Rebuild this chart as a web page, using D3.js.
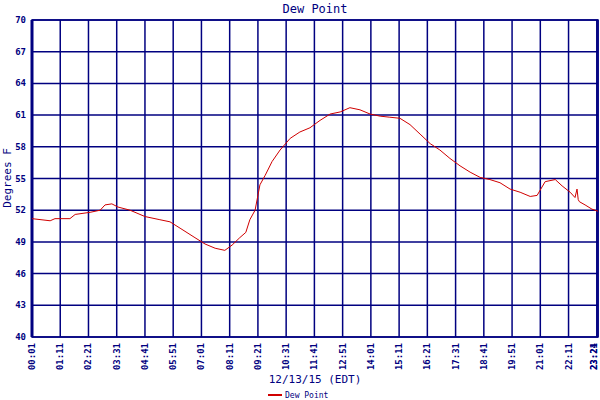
<!DOCTYPE html><html><head><meta charset="utf-8"><script src="https://cdn.jsdelivr.net/npm/d3@7"></script>
<style>body{margin:0;background:#fff}text{font-family:"DejaVu Sans Mono",monospace;fill:#000080}</style></head><body><svg id="c" width="600" height="400"></svg><script>
const minutes=[1,46,58,95,108,145,170,182,199,214,244,281,318,343,368,405,430,455,479,497,516,531,541,554,566,579,596,616,641,665,690,715,740,765,789,814,839,864,888,913,938,963,988,1012,1037,1062,1087,1112,1136,1161,1186,1211,1236,1253,1273,1298,1315,1335,1347,1352,1355,1358,1372,1389,1404];
const dew=[51.2,51.0,51.2,51.2,51.6,51.8,52.0,52.5,52.6,52.3,52.0,51.4,51.1,50.9,50.3,49.4,48.8,48.4,48.2,48.7,49.4,49.9,51.1,52.0,54.4,55.3,56.6,57.7,58.8,59.4,59.8,60.5,61.1,61.3,61.7,61.5,61.1,60.9,60.8,60.7,60.1,59.2,58.3,57.7,56.9,56.2,55.6,55.1,54.9,54.6,54.0,53.7,53.3,53.4,54.7,54.9,54.3,53.7,53.2,54.0,53.0,52.8,52.5,52.1,51.9];
const yTicks=[40,43,46,49,52,55,58,61,64,67,70];
const xTickLabels=["00:01","01:11","02:21","03:31","04:41","05:51","07:01","08:11","09:21","10:31","11:41","12:51","14:01","15:11","16:21","17:31","18:41","19:51","21:01","22:11","23:21","23:24"];
const toMin=s=>{const[h,m]=s.split(":").map(Number);return h*60+m;};
const svg=d3.select("#c"),L=32,R=598,T=20,B=337;
const x=d3.scaleLinear().domain([1,1404]).range([L,R]);
const y=d3.scaleLinear().domain([40,70]).range([B,T]);
const nav="#000080";
svg.append("g").selectAll("line").data(yTicks).join("line").attr("x1",L).attr("x2",R).attr("y1",d=>y(d)).attr("y2",d=>y(d)).attr("stroke",nav).attr("stroke-width",1.5);
svg.append("g").selectAll("line").data(xTickLabels).join("line").attr("x1",d=>x(toMin(d))).attr("x2",d=>x(toMin(d))).attr("y1",T).attr("y2",B).attr("stroke",nav).attr("stroke-width",1.5);
svg.append("rect").attr("x",L).attr("y",T).attr("width",R-L).attr("height",B-T).attr("fill","none").attr("stroke",nav).attr("stroke-width",1.5);
svg.append("line").attr("x1",L).attr("x2",L).attr("y1",T).attr("y2",B).attr("stroke",nav).attr("stroke-width",3);
svg.append("g").selectAll("text").data(yTicks).join("text").attr("x",L-6).attr("y",d=>y(d)+3).attr("text-anchor","end").attr("font-size",9).attr("font-weight","bold").text(d=>d);
svg.append("g").selectAll("text").data(xTickLabels).join("text").attr("transform",d=>`translate(${Math.min(x(toMin(d))+3,597)},${B+6}) rotate(-90)`).attr("text-anchor","end").attr("font-size",9).attr("font-weight","bold").text(d=>d);
svg.append("path").datum(minutes.map((m,i)=>[m,dew[i]])).attr("d",d3.line().x(d=>x(d[0])).y(d=>y(d[1]))).attr("fill","none").attr("stroke","#d00000").attr("stroke-width",1);
svg.append("text").attr("x",315).attr("y",13).attr("text-anchor","middle").attr("font-size",12).text("Dew Point");
svg.append("text").attr("transform","translate(11,178) rotate(-90)").attr("text-anchor","middle").attr("font-size",11).text("Degrees F");
svg.append("text").attr("x",315).attr("y",383).attr("text-anchor","middle").attr("font-size",11).text("12/13/15 (EDT)");
svg.append("line").attr("x1",268).attr("x2",282).attr("y1",395).attr("y2",395).attr("stroke","#d00000").attr("stroke-width",2);
svg.append("text").attr("x",285).attr("y",398).attr("font-size",8).text("Dew Point");
</script></body></html>
